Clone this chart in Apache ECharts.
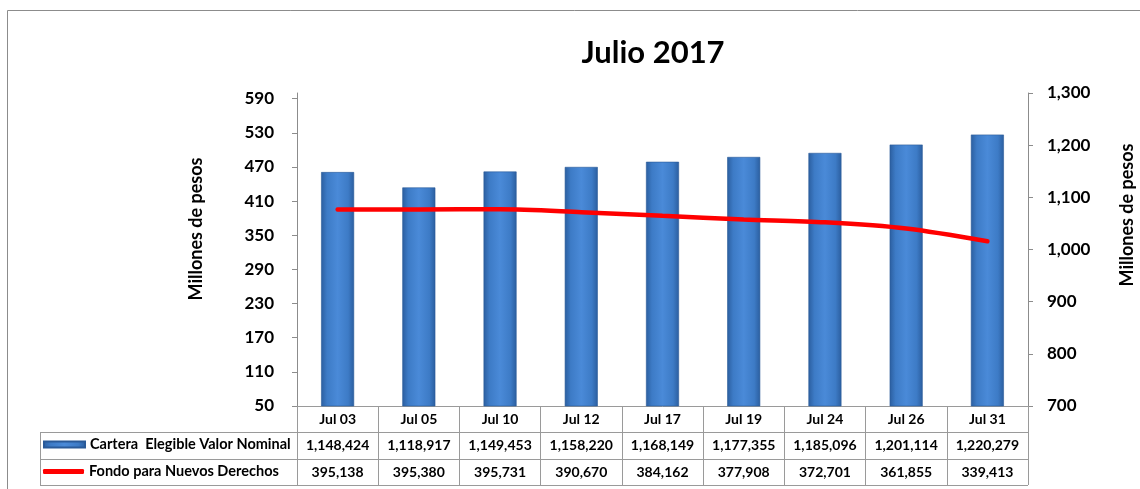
<!DOCTYPE html>
<html>
<head>
<meta charset="utf-8">
<script src="https://cdn.jsdelivr.net/npm/echarts@6/dist/echarts.min.js"></script>
<style>
html,body{margin:0;padding:0;background:#fff;}
#chart{width:1140px;height:489px;}
</style>
</head>
<body>
<div id="chart"></div>
<script>
var categories = ['Jul 03','Jul 05','Jul 10','Jul 12','Jul 17','Jul 19','Jul 24','Jul 26','Jul 31'];
var carteraValues = [1148424,1118917,1149453,1158220,1168149,1177355,1185096,1201114,1220279];
var fondoValues = [395138,395380,395731,390670,384162,377908,372701,361855,339413];
var leftTicks = [50,110,170,230,290,350,410,470,530,590];
var rightTicks = [700,800,900,1000,1100,1200,1300];
var carteraName = 'Cartera  Elegible Valor Nominal';
var fondoName = 'Fondo para Nuevos Derechos';
var titleText = 'Julio 2017';
var axisTitle = 'Millones de pesos';

var FONT = 'Lato, "Open Sans", sans-serif';
var fmt = function (v) { return Number(v).toLocaleString('en-US'); };

var chart = echarts.init(document.getElementById('chart'), null, {renderer: 'canvas'});

var barGrad = new echarts.graphic.LinearGradient(0, 0, 1, 0, [
  {offset: 0, color: '#2b5e9f'},
  {offset: 0.18, color: '#3d7bc6'},
  {offset: 0.5, color: '#4a8ad8'},
  {offset: 0.82, color: '#3d7bc6'},
  {offset: 1, color: '#2b5e9f'}
]);

var gridLeft = 297, gridRight = 1028, gridTop = 93, gridBottom = 406;
var tableLeft = 40, rowLines = [432, 459, 485];
var lineColor = '#9a9a9a';
var tableFont = {fontFamily: FONT, fontWeight: 'bold', fontSize: 14, color: '#000'};

var graphics = [
  {type: 'rect', shape: {x: 7.5, y: 10.5, width: 1200, height: 600}, style: {fill: null, stroke: '#8c8c8c', lineWidth: 1}, silent: true, z: -1},
  {type: 'text', x: 196, y: 229, rotation: Math.PI / 2, style: {text: axisTitle, font: 'bold 18px ' + FONT, fill: '#000', align: 'center', verticalAlign: 'middle'}},
  {type: 'text', x: 1127, y: 215, rotation: Math.PI / 2, style: {text: axisTitle, font: 'bold 18px ' + FONT, fill: '#000', align: 'center', verticalAlign: 'middle'}},
  {type: 'line', shape: {x1: tableLeft + 0.5, y1: rowLines[0], x2: tableLeft + 0.5, y2: rowLines[2]}, style: {stroke: lineColor, lineWidth: 1}}
];
rowLines.forEach(function (y) {
  graphics.push({type: 'line', shape: {x1: tableLeft, y1: y + 0.5, x2: gridRight, y2: y + 0.5}, style: {stroke: lineColor, lineWidth: 1}});
});

var legendText = {fontFamily: FONT, fontWeight: 'bold', fontSize: 14.5, color: '#000'};

var option = {
  backgroundColor: '#fff',
  animation: false,
  title: {
    text: titleText, left: 648, top: 32, textAlign: 'center',
    textStyle: {fontFamily: FONT, fontWeight: 'bold', fontSize: 31, color: '#000'}
  },
  legend: [
    {data: [{name: carteraName, icon: 'rect'}], left: 43, top: 437, padding: 0, itemWidth: 41, itemHeight: 6, selectedMode: false,
     textStyle: legendText},
    {data: [{name: fondoName, icon: 'roundRect', itemStyle: {color: '#ff0000'}}], left: 43, top: 464, padding: 0, itemWidth: 41, itemHeight: 5, selectedMode: false,
     textStyle: legendText}
  ],
  grid: {left: gridLeft, right: 1140 - gridRight, top: gridTop, bottom: 489 - gridBottom, containLabel: false},
  xAxis: [
    {type: 'category', data: categories, position: 'bottom',
     axisLine: {show: true, lineStyle: {color: lineColor, width: 1}},
     axisTick: {show: true, interval: 0, length: 79, lineStyle: {color: lineColor}},
     axisLabel: Object.assign({interval: 0, margin: 6}, tableFont)},
    {type: 'category', data: carteraValues.map(fmt), position: 'bottom', offset: 26,
     axisLine: {show: false}, axisTick: {show: false},
     axisLabel: Object.assign({interval: 0, margin: 6}, tableFont)},
    {type: 'category', data: fondoValues.map(fmt), position: 'bottom', offset: 53,
     axisLine: {show: false}, axisTick: {show: false},
     axisLabel: Object.assign({interval: 0, margin: 6}, tableFont)}
  ],
  yAxis: [
    {type: 'value', position: 'left', min: 50, max: 600,
     axisLine: {show: true, lineStyle: {color: '#8c8c8c'}},
     axisTick: {show: true, length: 5, customValues: leftTicks, lineStyle: {color: '#8c8c8c'}},
     axisLabel: {customValues: leftTicks, margin: 23, fontFamily: FONT, fontWeight: 'bold', fontSize: 17, color: '#000'},
     splitLine: {show: false}},
    {type: 'value', position: 'right', min: rightTicks[0], max: rightTicks[rightTicks.length - 1], interval: 100,
     axisLine: {show: true, lineStyle: {color: '#8c8c8c'}},
     axisTick: {show: true, length: 5, lineStyle: {color: '#8c8c8c'}},
     axisLabel: {margin: 19, formatter: fmt, fontFamily: FONT, fontWeight: 'bold', fontSize: 17, color: '#000'},
     splitLine: {show: false}}
  ],
  series: [
    {name: carteraName, type: 'bar', xAxisIndex: 0, yAxisIndex: 1, barWidth: 33,
     data: carteraValues.map(function (v) { return v / 1000; }),
     itemStyle: {color: barGrad, borderColor: '#2a5a98', borderWidth: 0.6}},
    {name: fondoName, type: 'line', xAxisIndex: 0, yAxisIndex: 0, smooth: 0.3, symbol: 'none',
     data: fondoValues.map(function (v) { return v / 1000; }),
     itemStyle: {color: '#ff0000'},
     lineStyle: {color: '#ff0000', width: 4.5, cap: 'round'}, z: 5}
  ],
  graphic: graphics
};
chart.setOption(option);
</script>
</body>
</html>
